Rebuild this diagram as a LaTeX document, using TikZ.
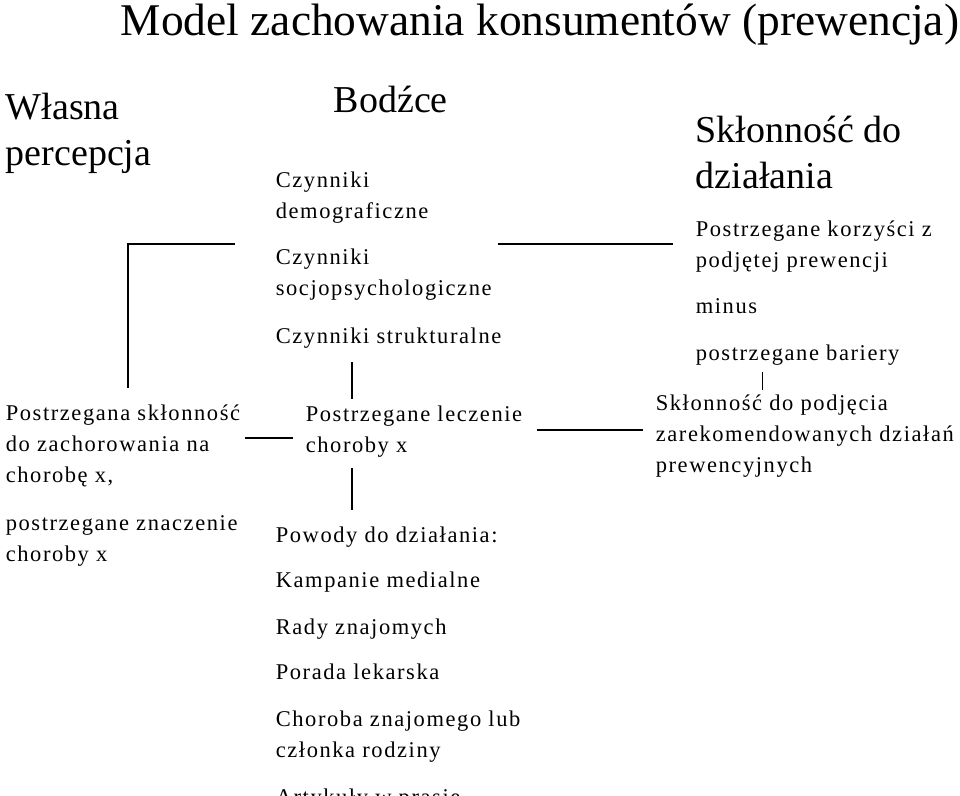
\documentclass[tikz,border=0pt]{standalone}
\usepackage{fontspec}
\setmainfont{Liberation Serif}
\newfontfamily\rzadki[LetterSpace=7]{Liberation Serif}
\usetikzlibrary{positioning}

\begin{document}
\begin{tikzpicture}[x=1pt,y=-1pt,line width=1.6pt,
                    duzy/.style={anchor=base west,inner sep=0pt,align=left,font=\fontsize{38}{46}\selectfont},
                    maly/.style={anchor=base west,inner sep=0pt,align=left,font=\rzadki\fontsize{22.5}{31}\selectfont}]
  \useasboundingbox (0,0) rectangle (960,795);
  \clip (0,0) rectangle (960,795);

  \node[anchor=base west,inner sep=0pt,font=\fontsize{45.4}{50}\selectfont] (tytul) at (120,35) {Model zachowania konsumentów (prewencja)};

  \node[duzy] (wlasna) at (5,165) {Własna\\percepcja};
  \node[duzy] (bodzce) at (333,112) {Bodźce};
  \node[duzy] (sklonnosc) at (695,188) {Skłonność do\\działania};

  % bodzce
  \node[maly] (demo) at (275,218) {Czynniki\\demograficzne};
  \node[maly] (socjo) at (275,295) {Czynniki\\socjopsychologiczne};
  \node[maly] (strukt) at (275,343) {Czynniki strukturalne};
  \node[maly] (leczenie) at (305,452) {Postrzegane leczenie\\choroby x};
  \node[maly] (powody) at (275,542) {Powody do działania:};
  \node[maly] (kampanie) at (275,587) {Kampanie medialne};
  \node[maly] (rady) at (275,634) {Rady znajomych};
  \node[maly] (porada) at (275,679) {Porada lekarska};
  \node[maly] (choroba) at (275,757) {Choroba znajomego lub\\członka rodziny};
  \node[maly] (artykuly) at (275,804) {Artykuły w prasie};

  % percepcja
  \node[maly] (podatnosc) at (5,482) {Postrzegana skłonność\\do zachorowania na\\chorobę x,};
  \node[maly] (znaczenie) at (5,561) {postrzegane znaczenie\\choroby x};

  % dzialanie
  \node[maly] (korzysci) at (695,267) {Postrzegane korzyści z\\podjętej prewencji};
  \node[maly] (minus) at (695,313) {minus};
  \node[maly] (bariery) at (695,360) {postrzegane bariery};
  \node[maly] (podjecie) at (655,472) {Skłonność do podjęcia\\zarekomendowanych działań\\prewencyjnych};

  % kreski
  \coordinate (k1) at (128,388);
  \coordinate (k2) at (128,244);
  \coordinate (k3) at (235,244);
  \coordinate (k4) at (498,244);
  \coordinate (k5) at (673,244);
  \coordinate (k6) at (245,438);
  \coordinate (k7) at (293,438);
  \coordinate (k8) at (537,430);
  \coordinate (k9) at (643,430);
  \coordinate (g1) at (352,362);
  \coordinate (g2) at (352,399);
  \coordinate (d1) at (352,468);
  \coordinate (d2) at (352,510);
  \coordinate (m1) at (762,372);
  \coordinate (m2) at (762,390);

  \draw (k1) -- (k2) -- (k3);
  \draw (k4) -- (k5);
  \draw (k6) -- (k7);
  \draw (k8) -- (k9);
  \draw (g1) -- (g2);
  \draw (d1) -- (d2);
  \draw[line width=1pt] (m1) -- (m2);
\end{tikzpicture}
\end{document}
